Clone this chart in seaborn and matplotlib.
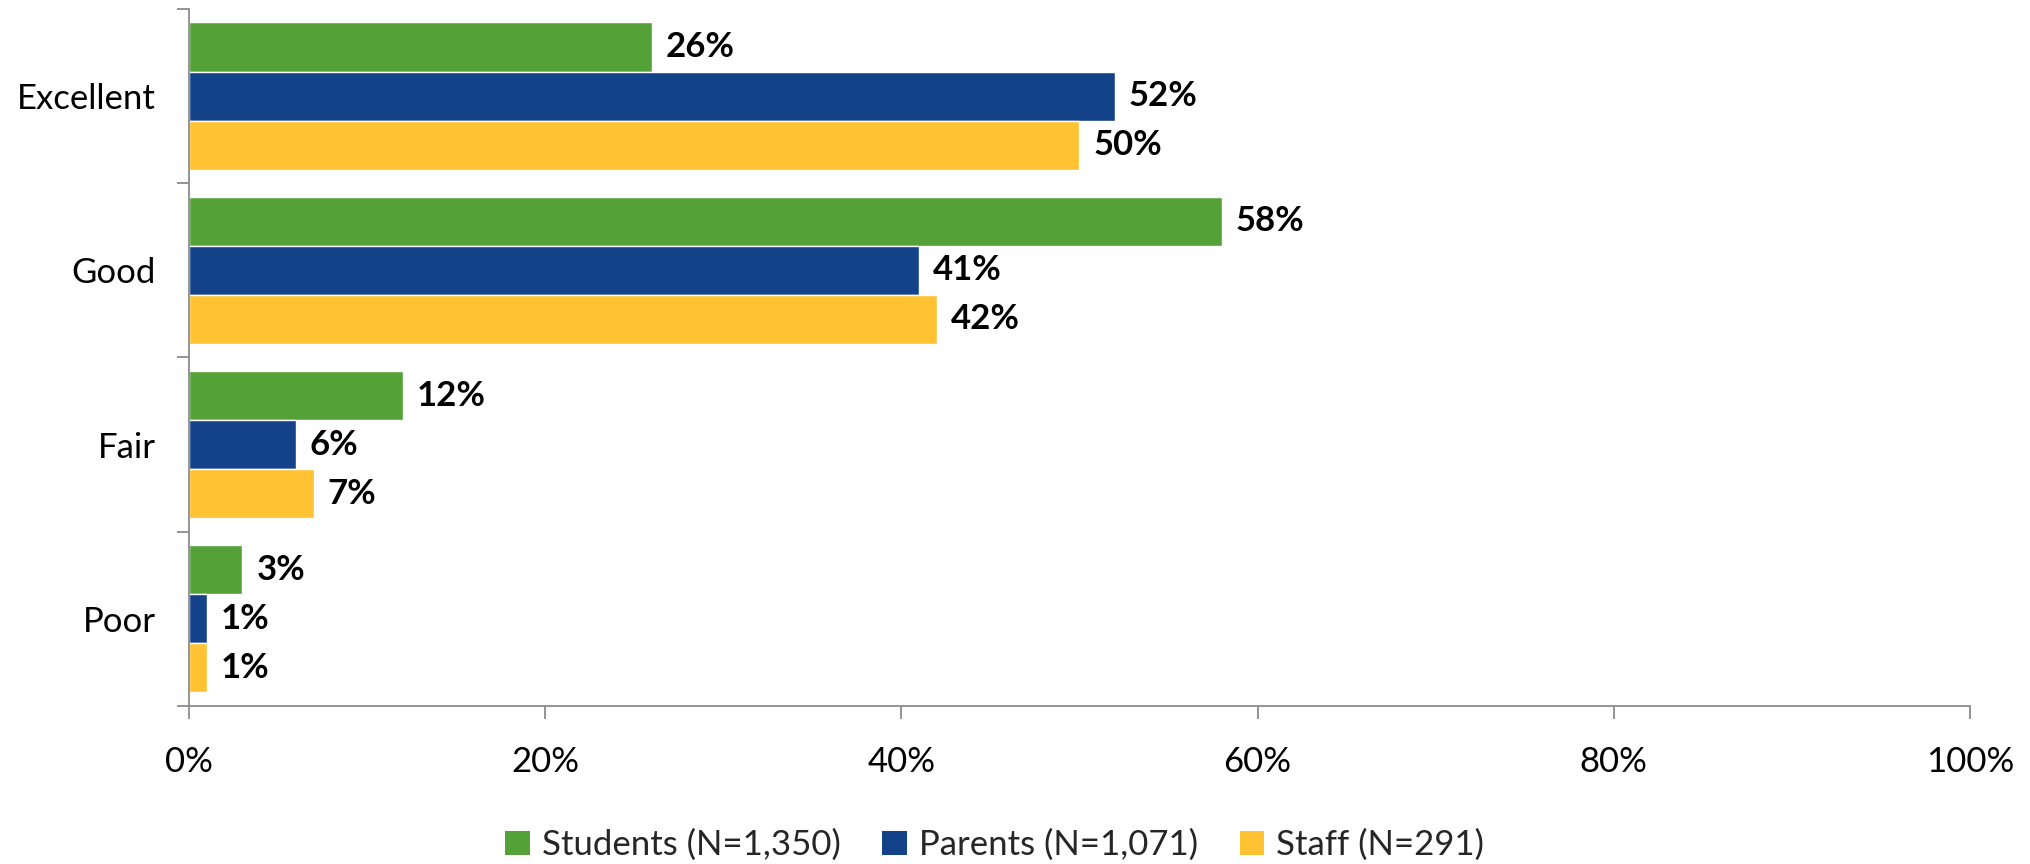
import matplotlib
matplotlib.use("Agg")
import matplotlib.pyplot as plt
import seaborn as sns
import pandas as pd
from matplotlib.ticker import FixedLocator, PercentFormatter
from matplotlib.patches import Patch

ratings = ["Excellent", "Good", "Fair", "Poor"]
groups = ["Students (N=1,350)", "Parents (N=1,071)", "Staff (N=291)"]
students = [26, 58, 12, 3]
parents = [52, 41, 6, 1]
staff = [50, 42, 7, 1]
colors = ["#54A138", "#144289", "#FFC233"]

rows = []
for grp, vals in zip(groups, [students, parents, staff]):
    for r, v in zip(ratings, vals):
        rows.append({"Rating": r, "Group": grp, "Percent": v})
df = pd.DataFrame(rows)

sns.set_theme(style="white")
plt.rcParams["font.family"] = ["Lato", "DejaVu Sans"]

fig = plt.figure(figsize=(20.3, 8.64), dpi=100)
ax = fig.add_axes([0.0931, 0.1829, 0.8773, 0.8067])

sns.barplot(data=df, y="Rating", x="Percent", hue="Group", order=ratings,
            hue_order=groups, palette=colors, orient="h", width=0.845,
            gap=0, saturation=1, errorbar=None, ax=ax, legend=False)

for container in ax.containers:
    ax.bar_label(container, labels=[f"{int(round(b.get_width()))}%" for b in container],
                 padding=10, fontsize=25, fontweight="bold", color="black")

ax.set_xlim(0, 100)
ax.set_ylim(3.5, -0.5)
ax.set_xticks([0, 20, 40, 60, 80, 100])
ax.xaxis.set_major_formatter(PercentFormatter(decimals=0))
ax.set_xlabel("")
ax.set_ylabel("")

# category boundary ticks on the value axis side
ax.yaxis.set_minor_locator(FixedLocator([-0.5, 0.5, 1.5, 2.5, 3.5]))
ax.tick_params(axis="y", which="major", length=0, pad=24, labelsize=25, labelcolor="black")
ax.tick_params(axis="y", which="minor", length=9, width=1.3, color="#8c8c8c", left=True)
ax.tick_params(axis="x", which="major", length=9, width=1.3, color="#8c8c8c", bottom=True,
               pad=20, labelsize=25, labelcolor="black")

for side in ["top", "right"]:
    ax.spines[side].set_visible(False)
for side in ["left", "bottom"]:
    ax.spines[side].set_color("#8c8c8c")
    ax.spines[side].set_linewidth(1.3)

handles = [Patch(facecolor=c, edgecolor="none") for c in colors]
fig.legend(handles, groups, loc="center", bbox_to_anchor=(0.49, 0.022), ncol=3,
           frameon=False, fontsize=25, handlelength=0.7, handleheight=0.7,
           handletextpad=0.35, columnspacing=1.2)

fig.savefig("out.png", dpi=100)
